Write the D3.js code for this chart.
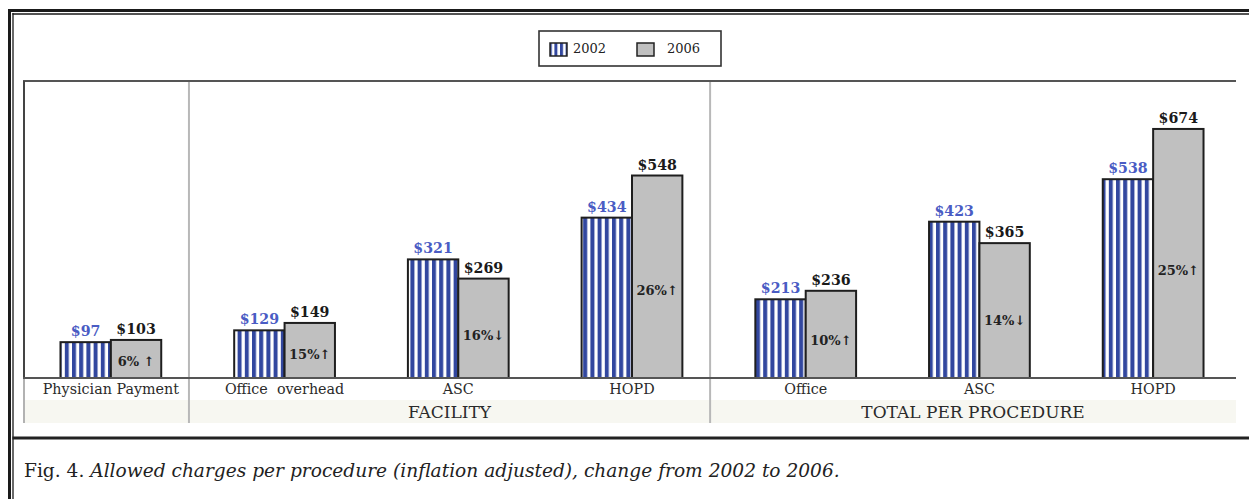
<!DOCTYPE html>
<html>
<head>
<meta charset="utf-8">
<script src="https://cdn.jsdelivr.net/npm/d3@7/dist/d3.min.js"></script>
<style>
  html, body { margin: 0; padding: 0; background: #fff; }
  svg { display: block; }
</style>
</head>
<body>
<svg id="fig" width="1249" height="499"></svg>
<script>
// Allowed charges per procedure, 2002 vs 2006 (inflation adjusted)
const categories = ["Physician Payment", "Office  overhead", "ASC", "HOPD", "Office", "ASC", "HOPD"];
const groups = ["", "FACILITY", "FACILITY", "FACILITY", "TOTAL PER PROCEDURE", "TOTAL PER PROCEDURE", "TOTAL PER PROCEDURE"];
const years = ["2002", "2006"];
const values2002 = [97, 129, 321, 434, 213, 423, 538];
const values2006 = [103, 149, 269, 548, 236, 365, 674];
const changeLabels = ["6% \u2191", "15%\u2191", "16%\u2193", "26%\u2191", "10%\u2191", "14%\u2193", "25%\u2191"];

const svg = d3.select("#fig");
const W = 1249, H = 499;
const serif = "'DejaVu Serif', 'Liberation Serif', serif";

const plot = { left: 24, right: 1236, top: 81, base: 378, bandTop: 400, bottom: 423 };

const defs = svg.append("defs");
function stripes(id, w, blueW) {
  const p = defs.append("pattern").attr("id", id)
    .attr("patternUnits", "userSpaceOnUse").attr("width", w).attr("height", 10);
  p.append("rect").attr("width", w).attr("height", 10).attr("fill", "#ffffff");
  p.append("rect").attr("width", blueW).attr("height", 10).attr("fill", "#32479f");
}
stripes("stripeBar", 7.2, 4);
stripes("stripeKey", 5.6, 3);

// scales
const idx = d3.range(categories.length);
const x = d3.scaleBand().domain(idx).range([plot.left, 1240]).paddingInner(0.42).paddingOuter(0.21);
const xs = d3.scaleBand().domain(years).range([0, x.bandwidth()]);
const y = d3.scaleLinear().domain([0, 700]).range([plot.base, plot.base - 700 * 0.3695]);

// outer frame
const frame = svg.append("g");
frame.append("line").attr("x1", 9.5).attr("x2", 9.5).attr("y1", 9).attr("y2", H).attr("stroke", "#1a1a1a").attr("stroke-width", 3);
frame.append("line").attr("x1", 13).attr("x2", 13).attr("y1", 13).attr("y2", H).attr("stroke", "#1a1a1a").attr("stroke-width", 1.3);
frame.append("line").attr("x1", 8).attr("x2", W + 10).attr("y1", 10.5).attr("y2", 10.5).attr("stroke", "#1a1a1a").attr("stroke-width", 3);
frame.append("line").attr("x1", 12.4).attr("x2", W + 10).attr("y1", 14).attr("y2", 14).attr("stroke", "#1a1a1a").attr("stroke-width", 1.3);
frame.append("line").attr("x1", 12.4).attr("x2", W + 10).attr("y1", 438).attr("y2", 438).attr("stroke", "#222").attr("stroke-width", 3);

// group label band
svg.append("rect").attr("x", plot.left + 1).attr("y", plot.bandTop)
  .attr("width", plot.right - plot.left - 1).attr("height", plot.bottom - plot.bandTop)
  .attr("fill", "#f7f7f1");

// group separators, set inside the gap before the first category of each group
const sepX = [];
idx.forEach(i => {
  if (i > 0 && groups[i] !== groups[i - 1]) {
    sepX.push(x(i) - x.step() * x.paddingInner() * 0.62);
  }
});
svg.selectAll("line.sep").data(sepX).join("line").attr("class", "sep")
  .attr("x1", d => d).attr("x2", d => d)
  .attr("y1", plot.top).attr("y2", plot.bottom)
  .attr("stroke", "#b8b8b8").attr("stroke-width", 2);

// chart box
svg.append("line").attr("x1", plot.left - 1).attr("x2", plot.right).attr("y1", plot.top).attr("y2", plot.top)
  .attr("stroke", "#555").attr("stroke-width", 2);
svg.append("line").attr("x1", plot.left).attr("x2", plot.left).attr("y1", plot.top).attr("y2", plot.base)
  .attr("stroke", "#444").attr("stroke-width", 2);
svg.append("line").attr("x1", plot.left).attr("x2", plot.left).attr("y1", plot.base).attr("y2", plot.bottom)
  .attr("stroke", "#999").attr("stroke-width", 1.5);

// bars
const rows = idx.map(i => ({ i, v2002: values2002[i], v2006: values2006[i], change: changeLabels[i] }));
const gBars = svg.append("g");
gBars.selectAll("rect.b02").data(rows).join("rect").attr("class", "b02")
  .attr("x", d => x(d.i) + xs("2002")).attr("width", xs.bandwidth())
  .attr("y", d => y(d.v2002)).attr("height", d => y(0) - y(d.v2002))
  .attr("fill", "url(#stripeBar)").attr("stroke", "#1e1e1e").attr("stroke-width", 2);
gBars.selectAll("rect.b06").data(rows).join("rect").attr("class", "b06")
  .attr("x", d => x(d.i) + xs("2006")).attr("width", xs.bandwidth())
  .attr("y", d => y(d.v2006)).attr("height", d => y(0) - y(d.v2006))
  .attr("fill", "#c0c0c0").attr("stroke", "#1e1e1e").attr("stroke-width", 2);

// x axis baseline
const xAxis = d3.axisBottom(x).tickSize(0).tickFormat(i => categories[i]);
const gx = svg.append("g").attr("transform", `translate(0,${plot.base})`).call(xAxis);
gx.select(".domain").attr("d", `M${plot.left - 1},0H${plot.right}`).attr("stroke", "#555").attr("stroke-width", 2);
gx.selectAll(".tick text").attr("dy", 0).attr("y", 15.5)
  .attr("font-family", serif).attr("font-size", 14.3).attr("fill", "#2a2a2a")
  .style("white-space", "pre");

// value labels
gBars.selectAll("text.l02").data(rows).join("text").attr("class", "l02")
  .attr("x", d => x(d.i) + xs("2002") + xs.bandwidth() / 2).attr("y", d => y(d.v2002) - 6)
  .attr("text-anchor", "middle").attr("font-family", serif).attr("font-size", 14.2)
  .attr("font-weight", 600).attr("fill", "#4a5cc4").text(d => "$" + d.v2002);
gBars.selectAll("text.l06").data(rows).join("text").attr("class", "l06")
  .attr("x", d => x(d.i) + xs("2006") + xs.bandwidth() / 2).attr("y", d => y(d.v2006) - 6)
  .attr("text-anchor", "middle").attr("font-family", serif).attr("font-size", 14.2)
  .attr("font-weight", "bold").attr("fill", "#1a1a1a").text(d => "$" + d.v2006);

// change labels inside 2006 bars
gBars.selectAll("text.chg").data(rows).join("text").attr("class", "chg")
  .attr("x", d => x(d.i) + xs("2006") + xs.bandwidth() / 2).attr("y", d => y(d.v2006 * 0.43))
  .attr("dy", "0.35em").attr("text-anchor", "middle")
  .attr("font-family", serif).attr("font-size", 13).attr("font-weight", "bold").attr("fill", "#222")
  .style("white-space", "pre").text(d => d.change);

// group labels
const groupSpans = [];
const bounds = [plot.left, ...sepX, plot.right];
let gi = 0;
idx.forEach(i => {
  if (i > 0 && groups[i] !== groups[i - 1]) gi++;
  if (!groupSpans[gi]) groupSpans[gi] = { name: groups[i], x0: bounds[gi], x1: bounds[gi + 1] };
});
svg.selectAll("text.grp").data(groupSpans.filter(g => g.name)).join("text").attr("class", "grp")
  .attr("x", d => (d.x0 + d.x1) / 2).attr("y", 418).attr("text-anchor", "middle")
  .attr("font-family", serif).attr("font-size", 17).attr("fill", "#2a2a2a").text(d => d.name);

// legend
const lg = svg.append("g");
lg.append("rect").attr("x", 539).attr("y", 31).attr("width", 182).attr("height", 35)
  .attr("fill", "#fff").attr("stroke", "#333").attr("stroke-width", 1.6);
const keyItems = [
  { year: years[0], fill: "url(#stripeKey)", sx: 550, tx: 573 },
  { year: years[1], fill: "#c0c0c0", sx: 637, tx: 667 }
];
lg.selectAll("rect.key").data(keyItems).join("rect").attr("class", "key")
  .attr("x", d => d.sx).attr("y", 43).attr("width", 17).attr("height", 13)
  .attr("fill", d => d.fill).attr("stroke", "#222").attr("stroke-width", 1.5);
lg.selectAll("text.key").data(keyItems).join("text").attr("class", "key")
  .attr("x", d => d.tx).attr("y", 53)
  .attr("font-family", serif).attr("font-size", 13).attr("fill", "#222").text(d => d.year);

// caption
const cap = svg.append("text").attr("x", 24).attr("y", 477)
  .attr("font-family", serif).attr("font-size", 18.6).attr("fill", "#222");
cap.append("tspan").text("Fig. 4. ");
cap.append("tspan").attr("font-style", "italic")
  .text("Allowed charges per procedure (inflation adjusted), change from 2002 to 2006.");
</script>
</body>
</html>
